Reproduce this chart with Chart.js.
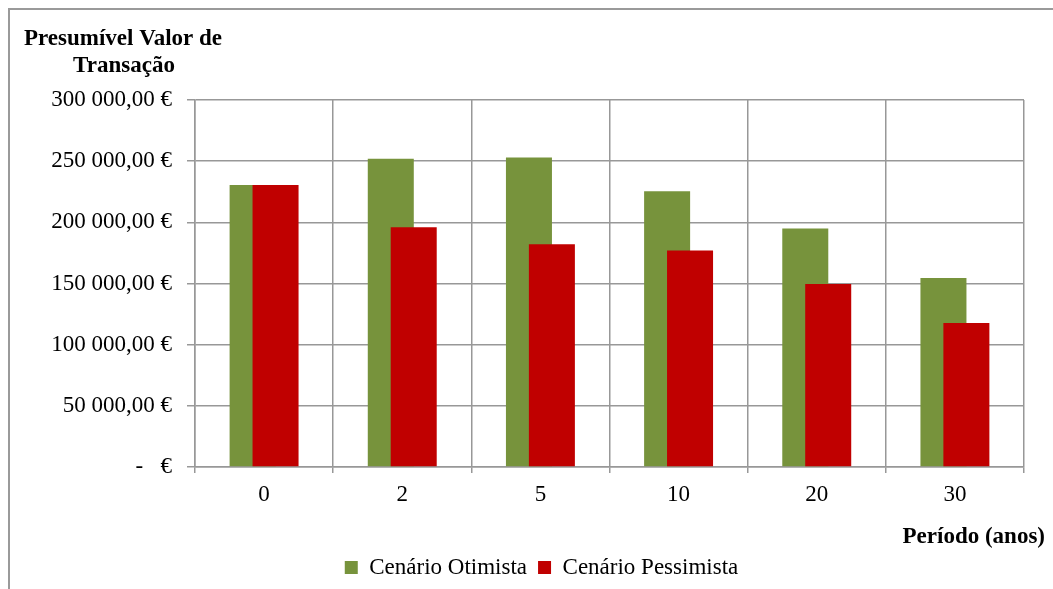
<!DOCTYPE html>
<html>
<head>
<meta charset="utf-8">
<script src="https://cdn.jsdelivr.net/npm/chart.js@4.4.1/dist/chart.umd.min.js"></script>
<style>
  html, body { margin: 0; padding: 0; background: #ffffff; }
  #wrap { width: 1053px; height: 589px; position: relative; }
</style>
</head>
<body>
<div id="wrap"><canvas id="chart" width="1053" height="589"></canvas></div>
<script>
// Período (anos)
const periodos = ['0', '2', '5', '10', '20', '30'];
// Presumível valor de transação (€) por cenário
const cenarioOtimista = [230500, 252000, 253000, 225500, 195000, 154500];
const cenarioPessimista = [230500, 196000, 182000, 177000, 149500, 117700];
const nomesSeries = ['Cenário Otimista', 'Cenário Pessimista'];
const coresSeries = ['#77933C', '#C00000'];
const yTickValores = [0, 50000, 100000, 150000, 200000, 250000, 300000];

const SERIF = "'Liberation Serif', 'Times New Roman', serif";
const FS = 23;
Chart.defaults.font.family = SERIF;
Chart.defaults.font.size = FS;
Chart.defaults.color = '#000000';

const GRID = '#989898';
// horizontal shift of each series inside its category (fraction of category width)
const SHIFT = 0.083;

function euro(v) {
  if (v === 0) return '-   €';
  const inteiro = Math.round(v).toString().replace(/\B(?=(\d{3})+(?!\d))/g, ' ');
  return inteiro + ',00 €';
}

const frameAndTitles = {
  id: 'frameAndTitles',
  beforeDraw(chart) {
    const ctx = chart.ctx;
    ctx.save();
    ctx.strokeStyle = '#9a9a9a';
    ctx.lineWidth = 2;
    ctx.beginPath();
    ctx.moveTo(9, chart.height);
    ctx.lineTo(9, 9);
    ctx.lineTo(chart.width, 9);
    ctx.stroke();
    ctx.restore();
  },
  afterDraw(chart) {
    const ctx = chart.ctx;
    ctx.save();
    ctx.fillStyle = '#000000';
    ctx.font = 'bold ' + FS + 'px ' + SERIF;
    ctx.textBaseline = 'alphabetic';
    ctx.textAlign = 'center';
    ctx.fillText('Presumível Valor de', 123, 45);
    ctx.fillText('Transação', 124, 72);
    ctx.textAlign = 'right';
    ctx.fillText('Período (anos)', 1045, 543);
    ctx.restore();
  }
};

const toPoints = arr => arr.map((v, i) => ({ x: i, y: v }));

new Chart(document.getElementById('chart'), {
  type: 'bar',
  data: {
    labels: periodos,
    datasets: [
      {
        label: nomesSeries[0],
        data: toPoints(cenarioOtimista),
        backgroundColor: coresSeries[0],
        xAxisID: 'xg',
        yAxisID: 'y',
        order: 1,
        grouped: false,
        barPercentage: 0.333,
        categoryPercentage: 1
      },
      {
        label: nomesSeries[1],
        data: toPoints(cenarioPessimista),
        backgroundColor: coresSeries[1],
        xAxisID: 'xr',
        yAxisID: 'y',
        order: 0,
        grouped: false,
        barPercentage: 0.333,
        categoryPercentage: 1
      }
    ]
  },
  options: {
    responsive: false,
    animation: false,
    devicePixelRatio: 1,
    layout: { padding: { top: 100, left: 30, right: 0, bottom: 0 } },
    plugins: {
      title: { display: false },
      tooltip: { enabled: false },
      legend: {
        display: true,
        position: 'bottom',
        labels: {
          boxWidth: 13,
          boxHeight: 13,
          padding: 11,
          color: '#000000',
          font: { size: FS, family: SERIF },
          sort: (a, b) => a.datasetIndex - b.datasetIndex
        }
      }
    },
    scales: {
      x: {
        type: 'category',
        labels: periodos,
        offset: true,
        position: 'bottom',
        grid: { display: true, offset: true, color: GRID, lineWidth: 1.5, tickLength: 6, drawOnChartArea: true },
        border: { display: true, color: GRID, width: 1.5 },
        ticks: { padding: 8, color: '#000000', font: { size: FS } },
        afterFit(scale) { scale.height = 78; }
      },
      xg: {
        type: 'linear', display: false, offset: false,
        min: -0.5 + SHIFT, max: periodos.length - 0.5 + SHIFT
      },
      xr: {
        type: 'linear', display: false, offset: false,
        min: -0.5 - SHIFT, max: periodos.length - 0.5 - SHIFT
      },
      y: {
        type: 'linear',
        position: 'left',
        min: 0,
        max: 300000,
        afterBuildTicks(scale) { scale.ticks = yTickValores.map(v => ({ value: v })); },
        grid: { color: GRID, lineWidth: 1.5, tickLength: 8 },
        border: { display: true, color: GRID, width: 1.5 },
        ticks: { padding: 15, color: '#000000', font: { size: FS }, callback: v => euro(v) },
        afterFit(scale) { scale.width = 165; }
      },
      yRight: {
        type: 'linear',
        position: 'right',
        display: true,
        grid: { display: false },
        border: { display: false },
        ticks: { display: false },
        afterFit(scale) { scale.width = 29; }
      }
    }
  },
  plugins: [frameAndTitles]
});
</script>
</body>
</html>
